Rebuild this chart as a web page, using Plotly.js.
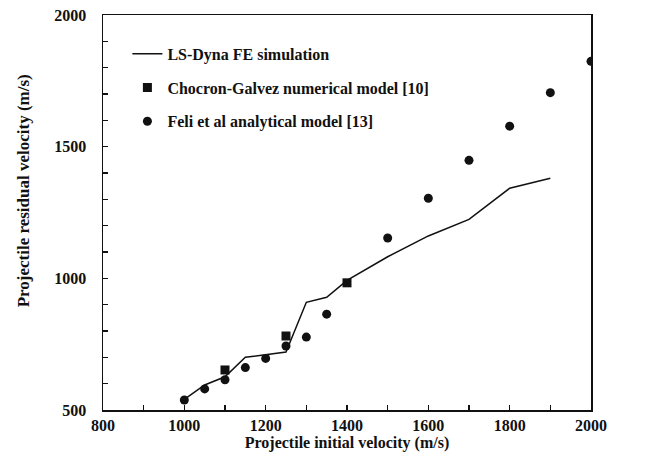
<!DOCTYPE html>
<html><head><meta charset="utf-8">
<script src="https://cdn.plot.ly/plotly-3.0.1.min.js"></script>
<style>body{margin:0;background:#fff}#c{width:672px;height:462px}</style>
</head><body><div id="c"></div>
<script>
const simX = [1000,1050,1100,1150,1250,1300,1350,1400,1500,1600,1700,1800,1900];
const simY = [540,595,626,700,720,909,928,992,1082,1161,1224,1342,1380];
const chocX = [1100,1250,1400];
const chocY = [652,781,983];
const feliX = [1000,1050,1100,1150,1200,1250,1300,1350,1500,1600,1700,1800,1900,2000];
const feliY = [538,580,615,661,696,743,777,864,1153,1304,1448,1578,1705,1824];
const xTickVals = [800,900,1000,1100,1200,1300,1400,1500,1600,1700,1800,1900,2000];
const xTickText = ['800','','1000','','1200','','1400','','1600','','1800','','2000'];
const yTickVals = [500,600,700,800,900,1000,1100,1200,1300,1400,1500,1600,1700,1800,1900,2000];
const yTickText = ['500','','','','','1000','','','','','1500','','','','','2000'];

const F = 'Liberation Serif, Times New Roman, serif';
const b = s => s ? '<b>' + s + '</b>' : '';
const data = [
  {x: simX, y: simY, mode:'lines', name:b('LS-Dyna FE simulation'), legendgroup:'a', line:{color:'#111', width:1.5}},
  {x: chocX, y: chocY, mode:'markers', name:b('Chocron-Galvez numerical model [10]'), legendgroup:'b', marker:{symbol:'square', size:9, color:'#111'}},
  {x: feliX, y: feliY, mode:'markers', name:b('Feli et al analytical model [13]'), legendgroup:'c', marker:{symbol:'circle', size:9, color:'#111'}}
];
const axisCommon = {showline:true, mirror:true, linecolor:'#111', linewidth:1.5, ticks:'inside', ticklen:5, tickcolor:'#111', tickwidth:1.2, showgrid:false, zeroline:false, tickfont:{family:F, size:16, color:'#111', weight:700}};
const layout = {
  width:672, height:462,
  margin:{l:103, r:81, t:15, b:52},
  paper_bgcolor:'#fff', plot_bgcolor:'#fff',
  font:{family:F, color:'#111'},
  showlegend:true,
  legend:{x:0.05, y:0.945, xanchor:'left', yanchor:'top', bgcolor:'rgba(0,0,0,0)', itemwidth:30, tracegroupgap:10,
    font:{family:F, size:16, color:'#111'}},
  xaxis: Object.assign({}, axisCommon, {range:[800,2000], tickvals:xTickVals, ticktext:xTickText,
    title:{text:b('Projectile initial velocity (m/s)'), font:{family:F, size:16, color:'#111'}, standoff:2}}),
  yaxis: Object.assign({}, axisCommon, {range:[500,2000], tickvals:yTickVals, ticktext:yTickText, ticklabelstandoff:12}),
  annotations:[{xref:'paper', yref:'paper', x:-0.164, y:0.556, xanchor:'center', yanchor:'middle', textangle:-90, showarrow:false,
    text:b('Projectile residual velocity (m/s)'), font:{family:F, size:17, color:'#111'}}]
};
Plotly.newPlot('c', data, layout, {displayModeBar:false, staticPlot:true});
</script></body></html>
